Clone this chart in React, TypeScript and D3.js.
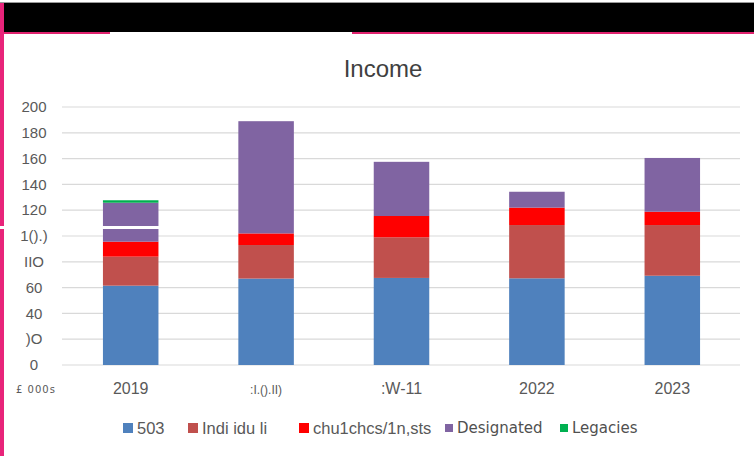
import React, { useEffect, useRef } from 'react';
import * as d3 from 'd3';

// data (£ 000s)
const years = ['2019', '2020', '2021', '2022', '2023'];
const yearLabels = ['2019', ':I.().II)', ':W-11', '2022', '2023'];
const fund503 = [61.5, 67, 67.5, 67.2, 69.2];
const individuals = [22.5, 26, 31.5, 41.3, 39.3];
const churches = [11.6, 9, 16.5, 13.5, 10.3];
const designated = [30.2, 87, 42, 12.3, 41.7];
const legacies = [1.9, 0, 0, 0, 0];
const yTicks = [0, 20, 40, 60, 80, 100, 120, 140, 160, 180, 200];
const yTickLabels = ['0', ')O', '40', '60', 'IIO', '1().)', '120', '140', '160', '180', '200'];

const seriesNames = ['503', 'Indi idu li', 'chu1chcs/1n,sts', 'Designated', 'Legacies'];
const seriesColors = ['#4F81BD', '#C0504D', '#FF0000', '#8064A2', '#00B050'];

const App = () => {
  const svgRef = useRef(null);

  useEffect(() => {
    const svg = d3.select(svgRef.current);
    svg.selectAll('*').remove();

    const width = 754;
    const height = 456;
    svg.attr('width', width).attr('height', height);

    svg.append('rect').attr('width', width).attr('height', height).attr('fill', '#fff');

    // header band + pink trim
    svg.append('rect').attr('x', 0).attr('y', 2).attr('width', width).attr('height', 1).attr('fill', '#9a9a9a');
    svg.append('rect').attr('x', 0).attr('y', 3).attr('width', width).attr('height', 29).attr('fill', '#000');
    svg.append('rect').attr('x', 0).attr('y', 32).attr('width', 110).attr('height', 2).attr('fill', '#E0226E');
    svg.append('rect').attr('x', 352).attr('y', 32).attr('width', 402).attr('height', 2).attr('fill', '#E0226E');
    svg.append('rect').attr('x', 0).attr('y', 3).attr('width', 4).attr('height', height).attr('fill', '#E8247A');

    const margin = { left: 63, right: 14 };
    const x = d3.scaleBand().domain(years).range([margin.left, width - margin.right]).paddingInner(0.59).paddingOuter(0.295);
    const y = d3.scaleLinear().domain([0, 200]).range([365, 107]);

    // gridlines
    svg.append('g').selectAll('line').data(yTicks).enter().append('line')
      .attr('x1', 62).attr('x2', width - margin.right)
      .attr('y1', d => y(d)).attr('y2', d => y(d))
      .attr('stroke', '#D9D9D9').attr('stroke-width', 1.2);

    // y tick labels
    svg.append('g').selectAll('text').data(yTicks).enter().append('text')
      .attr('x', 34).attr('y', d => y(d)).attr('dy', '0.35em')
      .attr('text-anchor', 'middle')
      .style('font-family', 'Liberation Sans, Arial, sans-serif')
      .style('font-size', '15px').style('fill', '#595959')
      .text((d, i) => yTickLabels[i]);

    // stack
    const table = years.map((yr, i) => ({
      year: yr,
      s0: fund503[i], s1: individuals[i], s2: churches[i], s3: designated[i], s4: legacies[i]
    }));
    const stack = d3.stack().keys(['s0', 's1', 's2', 's3', 's4']);
    const layers = stack(table);

    svg.append('g').selectAll('g').data(layers).enter().append('g')
      .attr('fill', (d, i) => seriesColors[i])
      .selectAll('rect').data(d => d).enter().append('rect')
      .attr('x', d => x(d.data.year))
      .attr('width', x.bandwidth())
      .attr('y', d => y(d[1]))
      .attr('height', d => Math.max(0, y(d[0]) - y(d[1])));

    // scan seam across the left side
    svg.append('rect').attr('x', 0).attr('y', 226).attr('width', 175).attr('height', 3).attr('fill', '#fff');

    // x labels
    svg.append('g').selectAll('text').data(years).enter().append('text')
      .attr('x', d => x(d) + x.bandwidth() / 2).attr('y', 394)
      .attr('text-anchor', 'middle')
      .style('font-family', 'Liberation Sans, Arial, sans-serif')
      .style('font-size', (d, i) => (i === 1 ? '12px' : '16px'))
      .style('fill', '#595959')
      .text((d, i) => yearLabels[i]);

    svg.append('text').attr('x', 16).attr('y', 393)
      .style('font-family', 'DejaVu Sans, sans-serif').style('font-size', '10px').style('fill', '#595959')
      .style('letter-spacing', '1px')
      .text('£ 000s');

    // title
    svg.append('text').attr('x', 383).attr('y', 77).attr('text-anchor', 'middle')
      .style('font-family', 'Liberation Sans, Arial, sans-serif')
      .style('font-size', '24px').style('fill', '#404040')
      .text('Income');

    // legend
    const legendX = [123, 188, 299, 445, 560];
    const legend = svg.append('g').selectAll('g').data(seriesNames).enter().append('g')
      .attr('transform', (d, i) => `translate(${legendX[i]},428)`);
    legend.append('rect')
      .attr('x', 0).attr('y', (d, i) => (i > 2 ? -4 : -5))
      .attr('width', (d, i) => (i > 2 ? 8 : 10)).attr('height', (d, i) => (i > 2 ? 8 : 10))
      .attr('fill', (d, i) => seriesColors[i]);
    legend.append('text')
      .attr('x', (d, i) => (i > 2 ? 12 : 14)).attr('dy', '0.35em')
      .style('font-family', (d, i) => (i > 2 ? 'DejaVu Sans, sans-serif' : 'Liberation Sans, Arial, sans-serif'))
      .style('font-size', (d, i) => (i > 2 ? '15px' : '16.5px'))
      .style('fill', (d, i) => (i > 2 ? '#505050' : '#595959'))
      .text(d => d);
  }, []);

  return (
    <div style={{ position: 'absolute', left: 0, top: 0 }}>
      <svg ref={svgRef} style={{ display: 'block' }}></svg>
    </div>
  );
};

export default App;
